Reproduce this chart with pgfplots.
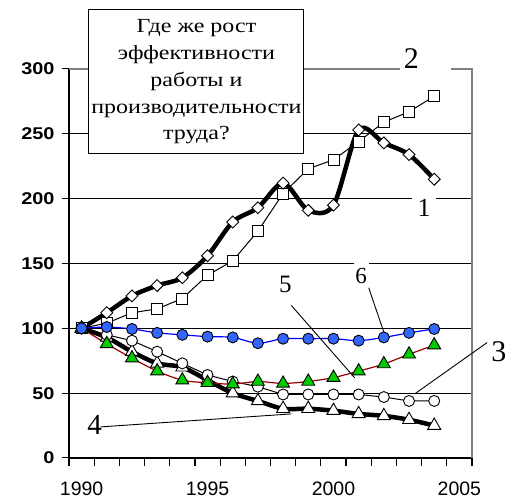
\documentclass[border=0pt]{standalone}
\usepackage{fontspec}
\setmainfont{Liberation Serif}
\newfontfamily\sansfont{Liberation Sans}
\newfontfamily\widesans[FakeStretch=1.17]{Liberation Sans}
\newfontfamily\wideserif[FakeStretch=1.2]{Liberation Serif}
\usepackage{pgfplots}
\pgfplotsset{compat=1.18}

\definecolor{dotblue}{RGB}{51,102,255}
\definecolor{trigreen}{RGB}{0,204,0}
\definecolor{darkred}{RGB}{153,0,0}

\begin{document}
\begin{tikzpicture}
\path[use as bounding box] (-69pt,-43pt) rectangle (446pt,458pt);
\begin{axis}[
  scale only axis,
  width=403pt, height=389pt,
  xmin=1989.5, xmax=2005.5,
  ymin=0, ymax=300,
  clip=false,
  axis x line*=bottom, axis y line*=left,
  axis line style={line width=1.2pt, black},
  tick align=outside,
  major tick length=7pt,
  tick style={black, line width=1pt},
  % ticks sit between the years, labels are moved half a year to the right
  xtick={1989.5,1990.5,...,2005.6},
  xticklabels={1990,,,,,1995,,,,,2000,,,,,2005,},
  xticklabel style={font=\fontsize{19.5}{19.5}\selectfont\sansfont, xshift=12.6pt, yshift=-13pt},
  ytick={0,50,...,300},
  yticklabel style={font=\fontsize{17}{17}\selectfont\widesans\bfseries, xshift=-4pt},
  /pgf/number format/assume math mode=true,
  /pgf/number format/1000 sep={},
  ymajorgrids,
  grid style={black, line width=1pt},
]
% 2
\addplot[black, line width=1pt, mark=square*, mark size=5.5pt,
  mark options={solid, fill=white, draw=black, line width=0.9pt}]
  coordinates {(1990,100) (1991,104) (1992,112) (1993,115) (1994,123) (1995,141)
  (1996,152) (1997,175) (1998,204) (1999,223) (2000,230) (2001,244) (2002,259)
  (2003,267) (2004,279)};
% 1
\addplot[black, line width=4.5pt, smooth, mark=square*, mark size=4.2pt,
  mark options={solid, fill=white, draw=black, line width=0.9pt, rotate=45}]
  coordinates {(1990,100) (1991,112) (1992,125) (1993,133) (1994,139) (1995,156)
  (1996,182) (1997,193) (1998,212) (1999,191) (2000,195) (2001,253) (2002,243)
  (2003,234) (2004,215)};
% 4
\addplot[black, line width=4.5pt, smooth, mark=triangle*, mark size=7.5pt,
  mark options={solid, fill=white, draw=black, line width=0.9pt}]
  coordinates {(1990,100) (1991,93) (1992,82) (1993,73) (1994,70) (1995,60)
  (1996,50) (1997,44) (1998,38) (1999,38) (2000,36.5) (2001,34) (2002,32.5)
  (2003,29.5) (2004,25)};
% 3
\addplot[black, line width=1pt, mark=*, mark size=5.5pt,
  mark options={solid, fill=white, draw=black, line width=0.9pt}]
  coordinates {(1990,100) (1991,95) (1992,90.5) (1993,82) (1994,73) (1995,64)
  (1996,59) (1997,55) (1998,49) (1999,49) (2000,49) (2001,49) (2002,47)
  (2003,44) (2004,44)};
% 5
\addplot[darkred, line width=1.2pt, smooth, mark=triangle*, mark size=7.5pt,
  mark options={solid, fill=trigreen, draw=black, line width=0.9pt}]
  coordinates {(1990,100) (1991,88) (1992,77) (1993,67) (1994,60) (1995,58)
  (1996,57) (1997,59) (1998,57.5) (1999,59) (2000,62) (2001,67) (2002,72.5)
  (2003,80) (2004,87)};
% 6
\addplot[blue, line width=1.2pt, smooth, mark=*, mark size=5.5pt,
  mark options={solid, fill=dotblue, draw=black, line width=0.9pt}]
  coordinates {(1990,100) (1991,101) (1992,99.5) (1993,96.5) (1994,95) (1995,93.6)
  (1996,93) (1997,88.5) (1998,92) (1999,92) (2000,92) (2001,90.5) (2002,93)
  (2003,96.5) (2004,99.5)};

% x ticks between the years
\pgfplotsinvokeforeach{1989.5,1990.5,...,2005.6}{
  \draw[black, line width=1.2pt] ([yshift=1pt]axis cs:#1,0) -- ([yshift=-8pt]axis cs:#1,0);
}

% plot area border, top and right
\draw[gray, line width=1.3pt] (rel axis cs:0,1) -- (rel axis cs:1,1) -- (rel axis cs:1,0);

% question box
\node[draw=black, line width=1pt, fill=white, minimum width=215pt, minimum height=144pt,
  align=center, inner sep=0pt, font=\fontsize{20}{26.7}\selectfont\wideserif]
  at (axis cs:1994.56,290)
  {Где же рост\\эффективности\\работы и\\производительности\\труда?};

% gaps behind the numbers
\fill[white] (axis cs:2002.63,294.6) rectangle (axis cs:2004.66,307);
\fill[white] (axis cs:2003.11,197) rectangle (axis cs:2004.06,203);
\fill[white] (axis cs:2000.8,147) rectangle (axis cs:2001.43,153);

% numbers
\node[inner sep=0pt, font=\fontsize{30}{30}\selectfont] at (axis cs:2003.09,307.7) {2};
\node[inner sep=0pt, font=\fontsize{26}{26}\selectfont] at (axis cs:2003.6,193) {1};
\node[inner sep=0pt, font=\fontsize{23}{23}\selectfont] at (axis cs:2001.1,140) {6};
\node[inner sep=0pt, font=\fontsize{25}{25}\selectfont] at (axis cs:1998.09,133.8) {5};
\node[inner sep=0pt, font=\fontsize{30}{30}\selectfont] at (axis cs:2006.57,82) {3};
\node[inner sep=0pt, font=\fontsize{29}{29}\selectfont] at (axis cs:1990.52,25.5) {4};

% leader lines
\draw[black, line width=0.9pt] (axis cs:2001.4,131.3) -- (axis cs:2002,97);
\draw[black, line width=0.9pt] (axis cs:1998.33,117.6) -- (axis cs:2000.84,61.9);
\draw[black, line width=0.9pt] (axis cs:2006.1,89) -- (axis cs:2003.23,49.5);
\draw[black, line width=0.9pt] (axis cs:1990.76,24) -- (axis cs:1998.33,34);
\end{axis}
\end{tikzpicture}
\end{document}
